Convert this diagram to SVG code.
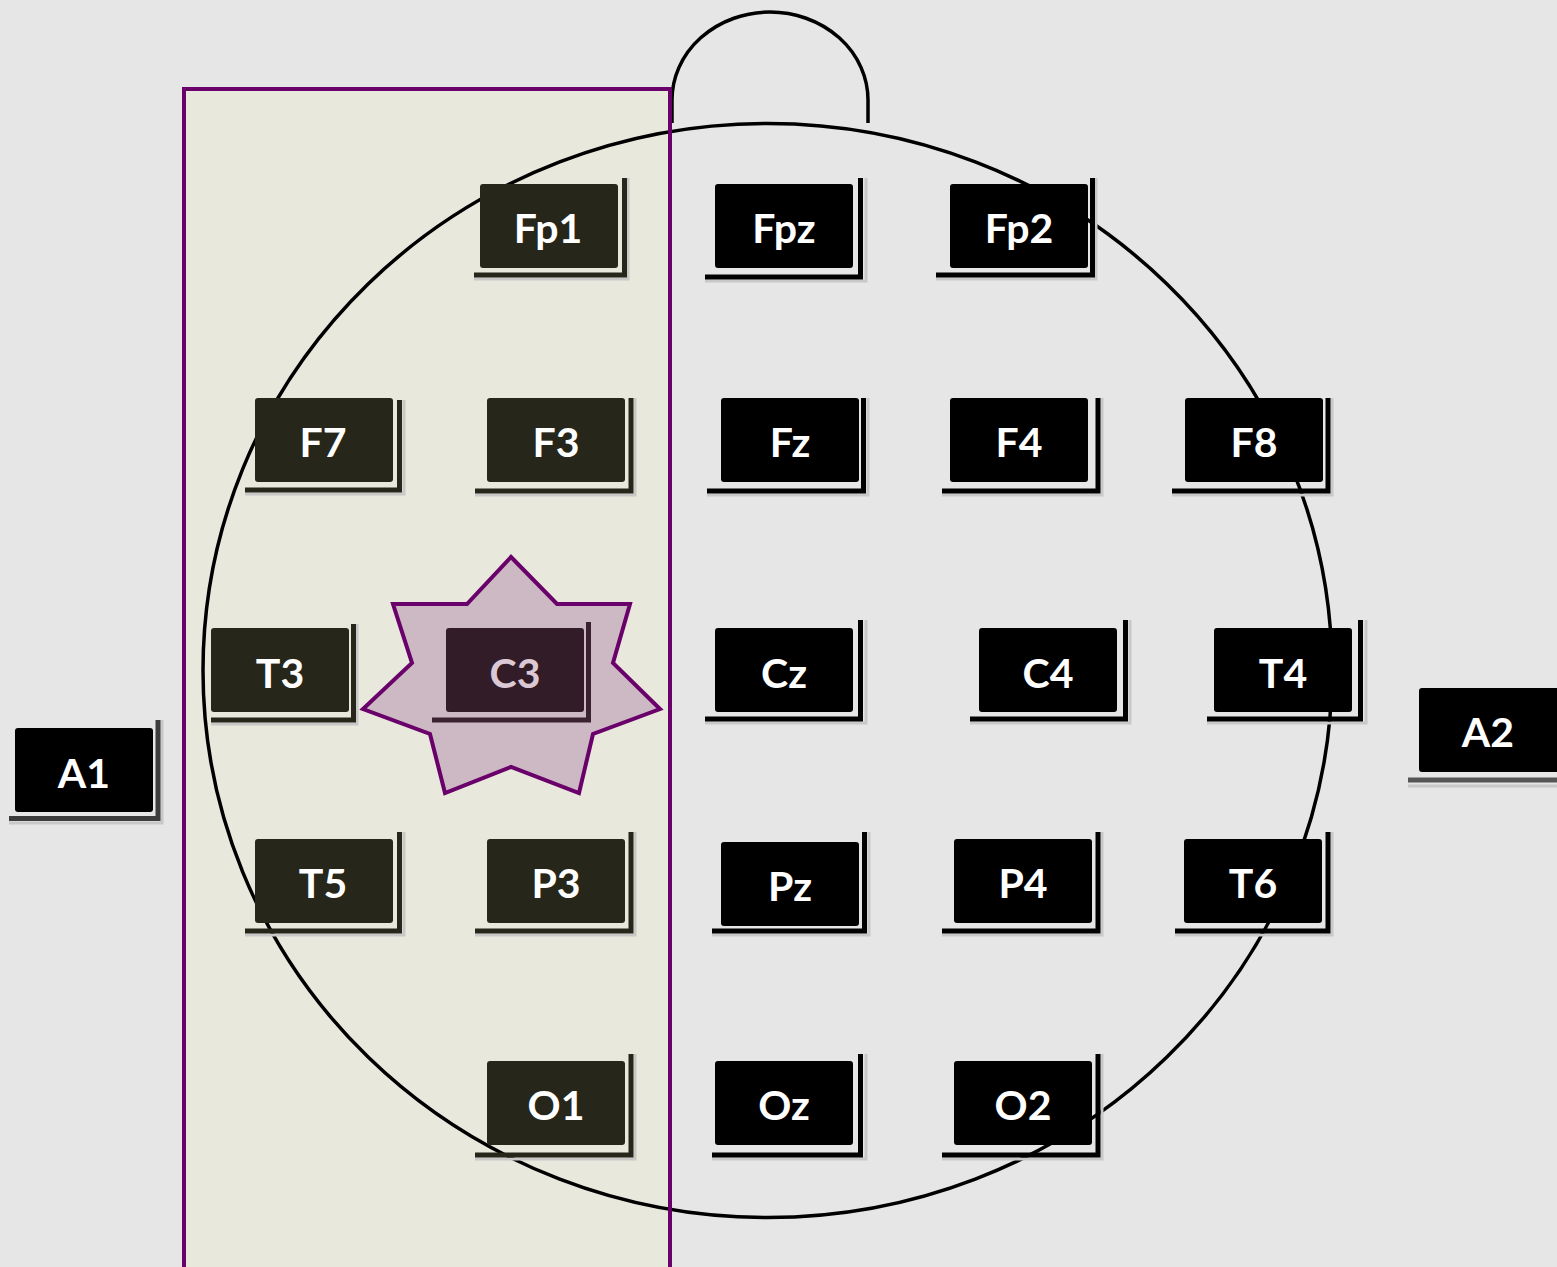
<svg xmlns="http://www.w3.org/2000/svg" width="1557" height="1267" viewBox="0 0 1557 1267">
<style>
.bx{fill:#000;rx:3px}
.bxl{fill:#26261a}
.sh{fill:none;stroke:#000;stroke-width:5}
.shl{stroke:#26261a}
.halo{fill:none;stroke:#c8c8c8;stroke-width:3}
.t{font-family:Lato,"Open Sans","Liberation Sans",sans-serif;font-weight:bold;font-size:41px;fill:#fff;text-anchor:middle}
.head{fill:none;stroke:#000;stroke-width:3.5}
</style>
<rect x="0" y="0" width="1557" height="1267" fill="#e6e6e6"/>
<rect x="184" y="89" width="486" height="1190" fill="#e8e8dc"/>
<g id="head">
<ellipse class="head" cx="767.5" cy="670.5" rx="564.5" ry="547"/>
<path class="head" d="M672 123 V100 A98 88 0 0 1 868 100 V123"/>
</g>
<rect x="184" y="89" width="486" height="1190" fill="none" stroke="#6a006a" stroke-width="4"/>
<g id="connectors"></g>

<g id="node-Fp1"><path class="halo" d="M474 279 H628 V178"/><path class="sh shl" d="M474 275 H624.5 V178"/><rect class="bxl" x="480" y="184" width="138" height="84" rx="3"/><text class="t" x="548" y="243">Fp1</text></g>
<g id="node-Fpz"><path class="halo" d="M705 281 H866 V178"/><path class="sh" d="M705 277 H860.5 V178"/><rect class="bx" x="715" y="184" width="138" height="84" rx="3"/><text class="t" x="784" y="243">Fpz</text></g>
<g id="node-Fp2"><path class="halo" d="M936 279 H1096 V178"/><path class="sh" d="M936 275 H1092.5 V178"/><rect class="bx" x="950" y="184" width="138" height="84" rx="3"/><text class="t" x="1019" y="243">Fp2</text></g>

<g id="node-F7"><path class="halo" d="M245 494 H404 V400"/><path class="sh shl" d="M245 490 H399.5 V400"/><rect class="bxl" x="255" y="398" width="138" height="84" rx="3"/><text class="t" x="323" y="457">F7</text></g>
<g id="node-F3"><path class="halo" d="M475 495 H635 V398"/><path class="sh shl" d="M475 491 H631 V398"/><rect class="bxl" x="487" y="398" width="138" height="84" rx="3"/><text class="t" x="556" y="457">F3</text></g>
<g id="node-Fz"><path class="halo" d="M707 495 H868 V398"/><path class="sh" d="M707 491 H863.5 V398"/><rect class="bx" x="721" y="398" width="138" height="84" rx="3"/><text class="t" x="790" y="457">Fz</text></g>
<g id="node-F4"><path class="halo" d="M942 495 H1102 V398"/><path class="sh" d="M942 491 H1098 V398"/><rect class="bx" x="950" y="398" width="138" height="84" rx="3"/><text class="t" x="1019" y="457">F4</text></g>
<g id="node-F8"><path class="halo" d="M1172 495 H1332 V398"/><path class="sh" d="M1172 491 H1328 V398"/><rect class="bx" x="1185" y="398" width="138" height="84" rx="3"/><text class="t" x="1254" y="457">F8</text></g>

<g id="node-T3"><path class="halo" d="M211 724 H357 V624"/><path class="sh shl" d="M211 720 H353.5 V624"/><rect class="bxl" x="211" y="628" width="138" height="84" rx="3"/><text class="t" x="280" y="688">T3</text></g>
<g id="node-C3">
<polygon points="511,557 557,604 630,604 613,663 660,709 593,734 579,793 511,767 445,793 430,734 363,709 412,663 393,604 467,604" fill="#cdb9c4" stroke="#6a006a" stroke-width="4" stroke-linejoin="miter"/>
<path class="sh" style="stroke:#3a2230" d="M432 720 H588.5 V622"/><rect x="446" y="628" width="138" height="84" rx="3" fill="#321c27"/><text class="t" x="515" y="688" style="fill:#dcc8d4">C3</text></g>
<g id="node-Cz"><path class="halo" d="M705 723 H866 V620"/><path class="sh" d="M705 719 H860.5 V620"/><rect class="bx" x="715" y="628" width="138" height="84" rx="3"/><text class="t" x="784" y="688">Cz</text></g>
<g id="node-C4"><path class="halo" d="M970 723 H1130 V620"/><path class="sh" d="M970 719 H1125.5 V620"/><rect class="bx" x="979" y="628" width="138" height="84" rx="3"/><text class="t" x="1048" y="688">C4</text></g>
<g id="node-T4"><path class="halo" d="M1207 723 H1366 V620"/><path class="sh" d="M1207 719 H1360.5 V620"/><rect class="bx" x="1214" y="628" width="138" height="84" rx="3"/><text class="t" x="1283" y="688">T4</text></g>

<g id="node-A1"><path class="halo" d="M9 823 H162 V720"/><path class="sh" style="stroke:#3c3c3c" d="M9 818.5 H158 V720"/><rect class="bx" x="15" y="728" width="138" height="84" rx="3"/><text class="t" x="84" y="788">A1</text></g>
<g id="node-A2"><path class="halo" d="M1408 786 H1557"/><path class="sh" style="stroke:#555" d="M1408 780 H1557"/><rect class="bx" x="1419" y="688" width="142" height="84" rx="3"/><text class="t" x="1488" y="747">A2</text></g>

<g id="node-T5"><path class="halo" d="M245 935 H404 V832"/><path class="sh shl" d="M245 931 H399.5 V832"/><rect class="bxl" x="255" y="839" width="138" height="84" rx="3"/><text class="t" x="323" y="898">T5</text></g>
<g id="node-P3"><path class="halo" d="M475 935 H635 V832"/><path class="sh shl" d="M475 931 H631 V832"/><rect class="bxl" x="487" y="839" width="138" height="84" rx="3"/><text class="t" x="556" y="898">P3</text></g>
<g id="node-Pz"><path class="halo" d="M712 935 H869 V832"/><path class="sh" d="M712 931 H864.5 V832"/><rect class="bx" x="721" y="842" width="138" height="84" rx="3"/><text class="t" x="790" y="901">Pz</text></g>
<g id="node-P4"><path class="halo" d="M942 935 H1102 V832"/><path class="sh" d="M942 931 H1098 V832"/><rect class="bx" x="954" y="839" width="138" height="84" rx="3"/><text class="t" x="1023" y="898">P4</text></g>
<g id="node-T6"><path class="halo" d="M1175 935 H1332 V832"/><path class="sh" d="M1175 931 H1328 V832"/><rect class="bx" x="1184" y="839" width="138" height="84" rx="3"/><text class="t" x="1253" y="898">T6</text></g>

<g id="node-O1"><path class="halo" d="M475 1159 H635 V1054"/><path class="sh shl" d="M475 1155 H631 V1054"/><rect class="bxl" x="487" y="1061" width="138" height="84" rx="3"/><text class="t" x="556" y="1120">O1</text></g>
<g id="node-Oz"><path class="halo" d="M712 1159 H866 V1054"/><path class="sh" d="M712 1155 H860.5 V1054"/><rect class="bx" x="715" y="1061" width="138" height="84" rx="3"/><text class="t" x="784" y="1120">Oz</text></g>
<g id="node-O2"><path class="halo" d="M942 1159 H1102 V1054"/><path class="sh" d="M942 1155 H1098 V1054"/><rect class="bx" x="954" y="1061" width="138" height="84" rx="3"/><text class="t" x="1023" y="1120">O2</text></g>
</svg>
